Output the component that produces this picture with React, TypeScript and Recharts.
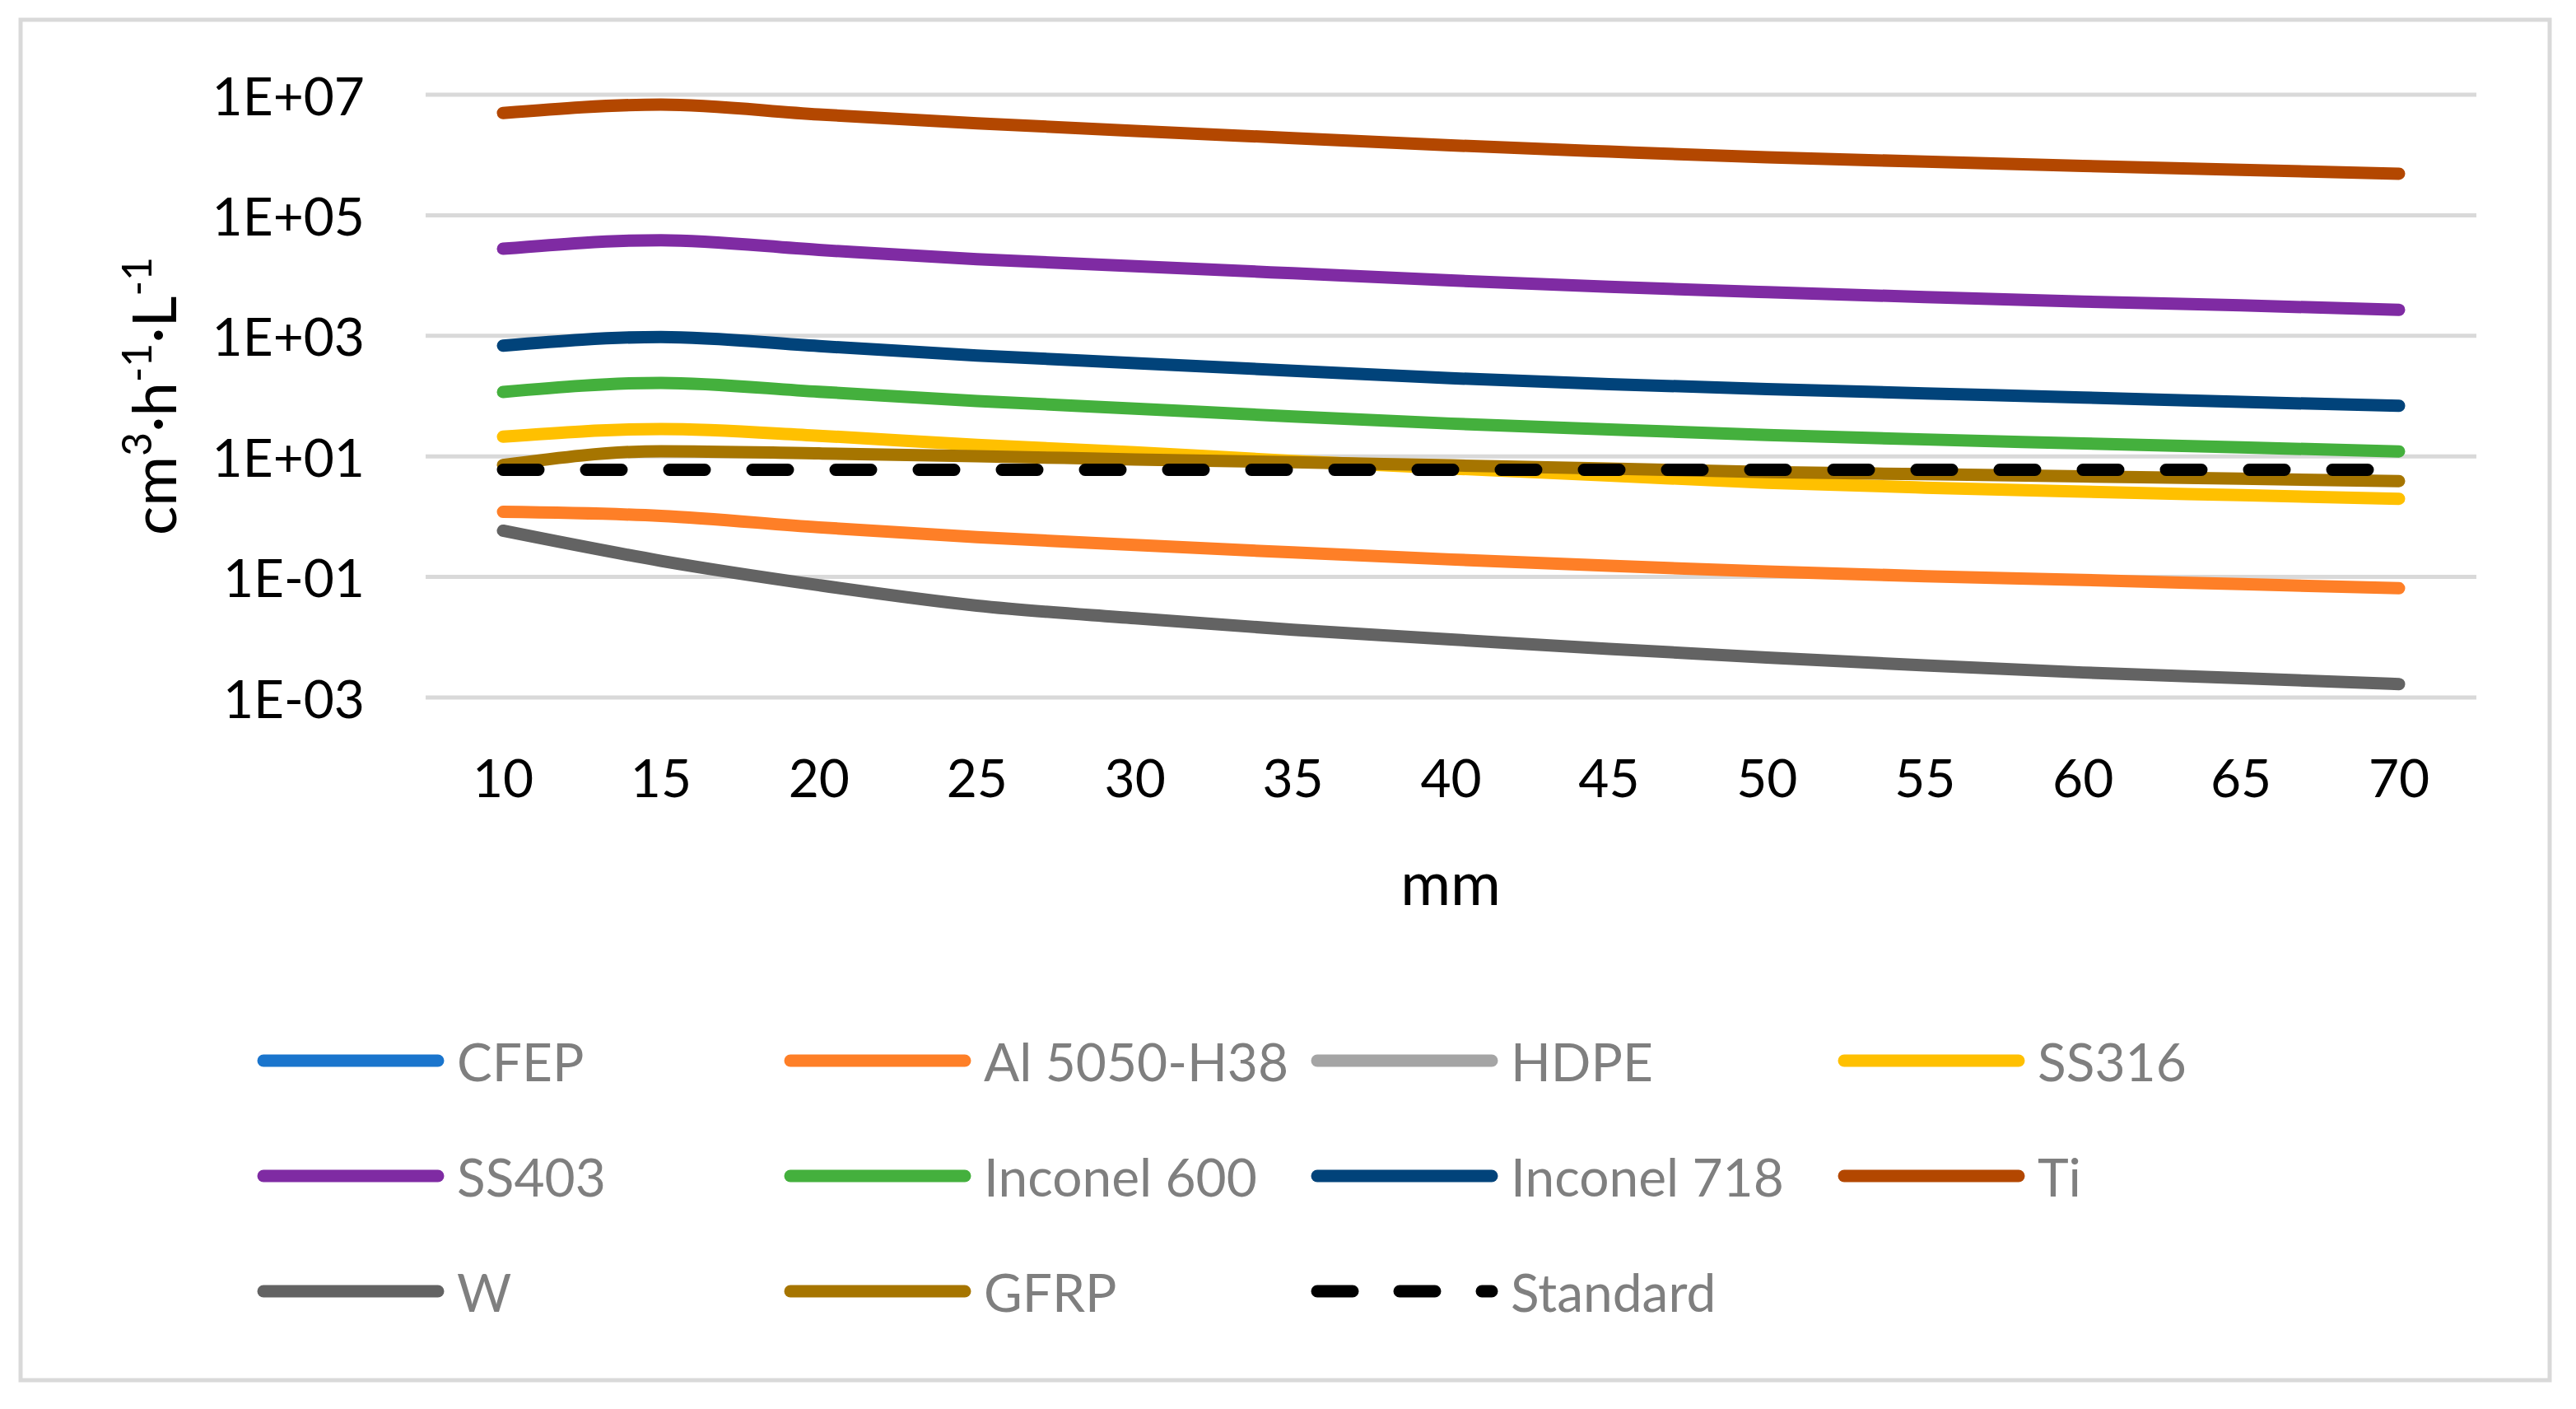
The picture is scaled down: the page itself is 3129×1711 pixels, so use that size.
import { LineChart, Line, XAxis, YAxis, CartesianGrid } from "recharts";

const W = 3129;
const H = 1711;
const FONT = "Lato, 'Open Sans', sans-serif";

// x categories (mm)
const mm = [10, 15, 20, 25, 30, 35, 40, 45, 50, 55, 60, 65, 70];

// series values
const cfep: (number | null)[] = [null, null, null, null, null, null, null, null, null, null, null, null, null];
const al5050 = [1.2, 1.03, 0.665, 0.457, 0.339, 0.255, 0.195, 0.153, 0.123, 0.103, 0.089, 0.076, 0.065];
const hdpe: (number | null)[] = [null, null, null, null, null, null, null, null, null, null, null, null, null];
const ss316 = [21.2, 28.4, 22, 15.5, 11.7, 8.4, 6.3, 4.8, 3.66, 3.03, 2.6, 2.27, 1.98];
const ss403 = [27800, 38600, 26600, 18700, 14300, 10900, 8300, 6500, 5300, 4400, 3700, 3200, 2700];
const inconel600 = [117, 166, 118, 83, 62, 46, 35, 28, 22.7, 19.1, 16.4, 14.1, 12.1];
const inconel718 = [687, 957, 676, 472, 353, 264, 198, 158, 131, 111, 95, 80, 69];
const ti = [4.97e6, 6.85e6, 4.7e6, 3.36e6, 2.51e6, 1.905e6, 1.445e6, 1.14e6, 9.16e5, 7.76e5, 6.58e5, 5.66e5, 4.9e5];
const tungsten = [0.585, 0.185, 0.073, 0.0334, 0.0206, 0.0133, 0.0092, 0.0064, 0.0046, 0.0034, 0.0026, 0.0021, 0.00167];
const gfrp = [7.2, 12.2, 11.2, 10.1, 8.9, 8.0, 7.1, 6.3, 5.5, 5.06, 4.64, 4.26, 3.9];
const standard = [6, 6, 6, 6, 6, 6, 6, 6, 6, 6, 6, 6, 6];

const yTicks = [1e-3, 1e-1, 1e1, 1e3, 1e5, 1e7];

const series = [
  { key: "cfep", name: "CFEP", color: "#1a75cd", values: cfep },
  { key: "al", name: "Al 5050-H38", color: "#fe7f27", values: al5050 },
  { key: "hdpe", name: "HDPE", color: "#a5a5a5", values: hdpe },
  { key: "ss316", name: "SS316", color: "#ffc000", values: ss316 },
  { key: "ss403", name: "SS403", color: "#7f2ba3", values: ss403 },
  { key: "in600", name: "Inconel 600", color: "#44b03d", values: inconel600 },
  { key: "in718", name: "Inconel 718", color: "#01437a", values: inconel718 },
  { key: "ti", name: "Ti", color: "#b34700", values: ti },
  { key: "w", name: "W", color: "#636363", values: tungsten },
  { key: "gfrp", name: "GFRP", color: "#a67500", values: gfrp },
  { key: "std", name: "Standard", color: "#000000", values: standard, dashed: true },
];

const data = mm.map((m, i) => {
  const row: any = { mm: m };
  series.forEach((s) => {
    row[s.key] = s.values[i];
  });
  return row;
});

const fmtExp = (v: number) => {
  const e = Math.round(Math.log10(v));
  const abs = Math.abs(e).toString().padStart(2, "0");
  return `1E${e < 0 ? "-" : "+"}${abs}`;
};

const YTick = ({ x, y, payload }: any) => (
  <text
    x={x - 74}
    y={y}
    textAnchor="end"
    dominantBaseline="central"
    fontSize={64}
    fontFamily={FONT}
    fill="#000"
  >
    {fmtExp(payload.value)}
  </text>
);

const XTick = ({ x, y, payload }: any) => (
  <text
    x={x}
    y={y + 96}
    textAnchor="middle"
    dominantBaseline="central"
    fontSize={64}
    fontFamily={FONT}
    fill="#000"
  >
    {payload.value}
  </text>
);

// legend grid: 4 columns, 3 rows
const legendCols = [320, 960, 1600, 2240];
const legendRows = [1288, 1428, 1568];

function Overlay() {
  return (
    <svg
      width={W}
      height={H}
      style={{ position: "absolute", left: 0, top: 0, pointerEvents: "none" }}
    >
      {/* outer frame */}
      <rect x={25} y={24} width={3072} height={1652} fill="none" stroke="#d9d9d9" strokeWidth={5} />

      {/* y axis title */}
      <text
        transform="translate(214, 481) rotate(-90)"
        textAnchor="middle"
        fontSize={74}
        fontFamily={FONT}
        fill="#000"
      >
        cm
        <tspan dy={-30} fontSize={50}>3</tspan>
        <tspan dy={30}>·h</tspan>
        <tspan dy={-30} fontSize={50}>-1</tspan>
        <tspan dy={30}>·L</tspan>
        <tspan dy={-30} fontSize={50}>-1</tspan>
      </text>

      {/* x axis title */}
      <text x={1762} y={1070} textAnchor="middle" dominantBaseline="central" fontSize={74} fontFamily={FONT} fill="#000">
        mm
      </text>

      {/* legend */}
      {series.map((s, i) => {
        const cx = legendCols[i % 4];
        const cy = legendRows[Math.floor(i / 4)];
        return (
          <g key={s.key}>
            <line
              x1={cx}
              x2={cx + 212}
              y1={cy}
              y2={cy}
              stroke={s.color}
              strokeWidth={15}
              strokeLinecap="round"
              strokeDasharray={s.dashed ? "43 57" : undefined}
            />
            <text
              x={cx + 235}
              y={cy}
              dominantBaseline="central"
              fontSize={64}
              fontFamily={FONT}
              fill="#7f7f7f"
            >
              {s.name}
            </text>
          </g>
        );
      })}
    </svg>
  );
}

export default function App() {
  return (
    <div
      style={{
        position: "absolute",
        left: 0,
        top: 0,
        width: W,
        height: H,
        background: "#fff",
        overflow: "hidden",
      }}
    >
      <LineChart
        width={W}
        height={H}
        data={data}
        margin={{ top: 115, right: 121, left: 217, bottom: 764 }}
      >
        <CartesianGrid vertical={false} stroke="#d9d9d9" strokeWidth={5} />
        <XAxis
          dataKey="mm"
          height={100}
          axisLine={false}
          tickLine={false}
          tickSize={0}
          tickMargin={0}
          padding={{ left: 94, right: 94 }}
          tick={<XTick />}
          interval={0}
        />
        <YAxis
          scale="log"
          domain={[1e-3, 1e7]}
          ticks={yTicks}
          allowDataOverflow
          width={300}
          axisLine={false}
          tickLine={false}
          tickSize={0}
          tickMargin={0}
          tick={<YTick />}
          interval={0}
        />
        {series.map((s) => (
          <Line
            key={s.key}
            dataKey={s.key}
            name={s.name}
            type="monotone"
            stroke={s.color}
            strokeWidth={15}
            strokeLinecap="round"
            strokeLinejoin="round"
            strokeDasharray={s.dashed ? "43 58" : undefined}
            dot={false}
            activeDot={false}
            connectNulls={false}
            isAnimationActive={false}
          />
        ))}
      </LineChart>
      <Overlay />
    </div>
  );
}
